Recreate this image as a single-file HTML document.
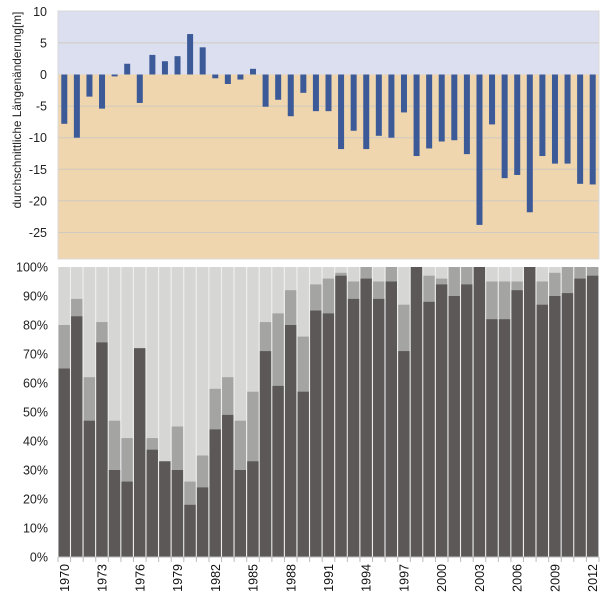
<!DOCTYPE html>
<html><head><meta charset="utf-8"><style>
html,body{margin:0;padding:0;background:#fff;}
svg{display:block;font-family:"Liberation Sans",sans-serif;}
</style></head><body>
<svg id="s" width="610" height="600" xmlns="http://www.w3.org/2000/svg"></svg>
<script>
const s=document.getElementById('s');
let h='';
const L=58,R=599,N=43,W=(R-L)/N;
const y0=74.5,k=6.32; const ty=v=>y0-v*k;
h+=`<rect x="${L}" y="11" width="${R-L}" height="${y0-11}" fill="#dcdff0"/>`;
h+=`<rect x="${L}" y="${y0}" width="${R-L}" height="${259-y0}" fill="#efd6ae"/>`;
for(let v=10;v>=-25;v-=5){const y=ty(v);
 if(v!=10&&v!=0) h+=`<line x1="${L}" x2="${R}" y1="${y}" y2="${y}" stroke="#cfcac0" stroke-width="1"/>`;
 h+=`<text x="47" y="${y+4.5}" font-size="12.5" text-anchor="end" fill="#222">${v}</text>`;}
h+=`<rect x="${L}" y="11" width="${R-L}" height="248" fill="none" stroke="#d8d8d8"/>`;
const tv=[-7.8,-10,-3.5,-5.4,-0.3,1.7,-4.5,3.1,2.1,2.9,6.4,4.3,-0.6,-1.5,-0.8,0.9,-5.1,-4,-6.6,-2.9,-5.8,-5.8,-11.8,-8.9,-11.8,-9.7,-10,-6,-12.9,-11.7,-10.6,-10.4,-12.6,-23.8,-7.9,-16.4,-15.9,-21.8,-12.9,-14.1,-14.1,-17.3,-17.4];
tv.forEach((v,i)=>{const cx=L+W*(i+0.5);const a=ty(Math.max(v,0)),b=ty(Math.min(v,0));
 h+=`<rect x="${cx-3}" y="${a}" width="6" height="${Math.max(b-a,1)}" fill="#3c5a98"/>`;});
h+=`<text transform="translate(21,110) rotate(-90)" font-size="11.8" text-anchor="middle" fill="#222">durchschnittliche Längenänderung[m]</text>`;
const B0=557,B1=267; const by=p=>B0-(B0-B1)*p/100;
const bd=[[65,80],[83,89],[47,62],[74,81],[30,47],[26,41],[72,72],[37,41],[33,33],[30,45],[18,26],[24,35],[44,58],[49,62],[30,47],[33,57],[71,81],[59,84],[80,92],[57,76],[85,94],[84,96],[97,98],[89,95],[96,100],[89,95],[95,100],[71,87],[100,100],[88,97],[94,96],[90,100],[94,100],[100,100],[82,95],[82,95],[92,95],[100,100],[87,95],[90,98],[91,100],[96,100],[97,100]];
h+=`<rect x="${L}" y="${B1}" width="${R-L}" height="${B0-B1}" fill="#eeeeee"/>`;
bd.forEach((d,i)=>{const x=L+W*i+0.5,w=W-1.2;
 h+=`<rect x="${x}" y="${B1}" width="${w}" height="${B0-B1}" fill="#d6d7d5"/>`;
 h+=`<rect x="${x}" y="${by(d[1])}" width="${w}" height="${by(0)-by(d[1])}" fill="#a4a4a3"/>`;
 h+=`<rect x="${x}" y="${by(d[0])}" width="${w}" height="${by(0)-by(d[0])}" fill="#5d5858"/>`;});
for(let p=0;p<=100;p+=10){const y=by(p);
 h+=`<text x="48" y="${y+4.5}" font-size="12.5" text-anchor="end" fill="#222">${p}%</text>`;}
h+=`<line x1="${L}" x2="${R}" y1="${B0}" y2="${B0}" stroke="#bbb"/>`;
for(let i=0;i<=N;i++){const x=L+W*i;h+=`<line x1="${x}" x2="${x}" y1="${B0}" y2="${B0+5}" stroke="#bbb"/>`;}
for(let i=0;i<N;i+=3){const x=L+W*(i+0.5)+4.5;
 h+=`<text transform="translate(${x},564) rotate(-90)" font-size="12.5" text-anchor="end" fill="#111">${1970+i}</text>`;}
s.innerHTML=h;
</script>
</body></html>
